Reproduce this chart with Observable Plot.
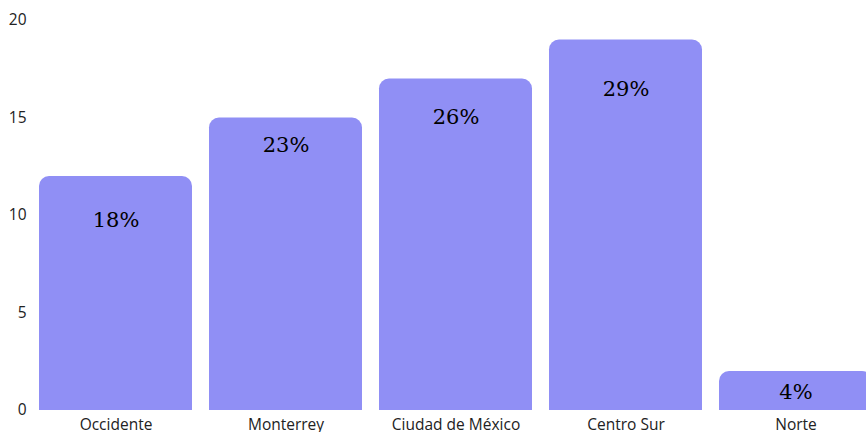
<!DOCTYPE html>
<html>
<head>
<meta charset="utf-8">
<script src="https://cdn.jsdelivr.net/npm/d3@7"></script>
<script src="https://cdn.jsdelivr.net/npm/@observablehq/plot@0.6"></script>
<style>
  html, body { margin: 0; padding: 0; background: #fff; overflow: hidden; }
</style>
</head>
<body>
<div id="chart"></div>
<script>
const regions = ["Occidente", "Monterrey", "Ciudad de México", "Centro Sur", "Norte"];
const counts = [12, 15, 17, 19, 2];
const shares = ["18%", "23%", "26%", "29%", "4%"];
// level (in count units) at which each share label sits inside its bar
const shareLevels = [9.75, 13.6, 15.05, 16.45, 0.95];
const yTicks = [0, 5, 10, 15, 20];

const data = regions.map((r, i) => ({region: r, count: counts[i], share: shares[i], level: shareLevels[i]}));
const barColor = "#908ff5";

const chart = Plot.plot({
  width: 866,
  height: 432,
  marginTop: 20,
  marginBottom: 22,
  marginLeft: 30,
  marginRight: 0,
  style: {fontFamily: "'Open Sans', sans-serif", fontSize: "16px", color: "#222", background: "#fff"},
  x: {domain: regions, range: [22, 890], paddingInner: 0.1, paddingOuter: 0.1, label: null},
  y: {domain: [0, 20], ticks: yTicks, label: null},
  marks: [
    Plot.axisY({ticks: yTicks, tickSize: 0, tickPadding: 4, label: null, fontSize: 15.5}),
    Plot.axisX({tickSize: 0, tickPadding: 8, label: null, fontSize: 15.5}),
    Plot.barY(data, {x: "region", y: "count", fill: barColor, rx: 10}),
    Plot.barY(data, {x: "region", y: "count", fill: barColor, insetTop: 10}),
    Plot.text(data, {x: "region", y: "level", text: "share", fill: "#000",
      fontFamily: "'DejaVu Serif', serif", fontSize: 21})
  ]
});
document.getElementById("chart").appendChild(chart);
</script>
</body>
</html>
